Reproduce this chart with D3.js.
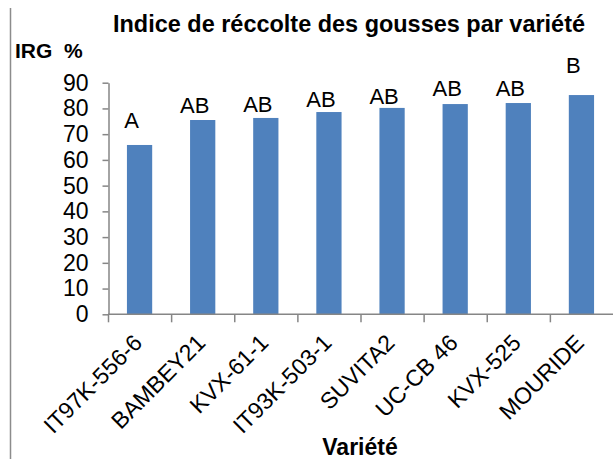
<!DOCTYPE html>
<html>
<head>
<meta charset="utf-8">
<script src="https://cdn.jsdelivr.net/npm/d3@7"></script>
<style>
  html, body { margin: 0; padding: 0; background: #fff; }
  svg { display: block; font-family: "Liberation Sans", Arial, sans-serif; }
</style>
</head>
<body>
<svg id="chart" width="613" height="459"></svg>
<script>
// ---- data ----
const categories = ["IT97K-556-6", "BAMBEY21", "KVX-61-1", "IT93K-503-1", "SUVITA2", "UC-CB 46", "KVX-525", "MOURIDE"];
const irgValues = [65.8, 75.5, 76.3, 78.6, 80.2, 81.7, 82.1, 85.2];
const groupLetters = ["A", "AB", "AB", "AB", "AB", "AB", "AB", "B"];
const letterLevel = [72.3, 78.1, 78.7, 80.6, 81.9, 84.8, 84.8, 93.8];
const yTicks = [0, 10, 20, 30, 40, 50, 60, 70, 80, 90];
const titleText = "Indice de réccolte des gousses par variété";
const yTitle = "IRG  %";
const xTitle = "Variété";

// ---- layout ----
const svg = d3.select("#chart");
const axisColor = "#868686";
const barColor = "#4F81BD";

const x = d3.scaleBand().domain(categories).range([108, 613]).padding(0);
const y = d3.scaleLinear().domain([0, 90]).range([314.3, 82.7]);

// left frame line
svg.append("line")
  .attr("x1", 10.5).attr("x2", 10.5).attr("y1", 8).attr("y2", 459)
  .attr("stroke", "#8c8c8c").attr("stroke-width", 1.5);

// title
svg.append("text")
  .attr("x", 113).attr("y", 32)
  .attr("font-size", 23).attr("font-weight", "bold")
  .attr("textLength", 472).attr("lengthAdjust", "spacingAndGlyphs")
  .attr("fill", "#000")
  .text(titleText);

// y title
svg.append("text")
  .attr("x", 15).attr("y", 58)
  .attr("font-size", 21).attr("font-weight", "bold")
  .style("white-space", "pre")
  .attr("fill", "#000")
  .text(yTitle);

// bars
const barW = x.bandwidth() * 0.4;
svg.append("g").selectAll("rect")
  .data(irgValues)
  .join("rect")
  .attr("x", (d, i) => x(categories[i]) + x.bandwidth() / 2 - barW / 2)
  .attr("y", d => y(d))
  .attr("width", barW)
  .attr("height", d => y(0) - y(d))
  .attr("fill", barColor);

// y axis
const yAxis = d3.axisLeft(y).tickValues(yTicks).tickSize(6).tickPadding(14).tickSizeOuter(0);
const gy = svg.append("g").attr("transform", "translate(108.5,0)").call(yAxis);
gy.select(".domain").attr("stroke", axisColor).attr("stroke-width", 1.5);
gy.selectAll(".tick line").attr("stroke", axisColor).attr("stroke-width", 1.5);
gy.selectAll(".tick text")
  .attr("font-size", 23).attr("font-family", "Liberation Sans, Arial, sans-serif")
  .attr("fill", "#000");

// x axis line + ticks at band boundaries
const gx = svg.append("g");
gx.append("line")
  .attr("x1", x.range()[0]).attr("x2", x.range()[1])
  .attr("y1", y(0)).attr("y2", y(0))
  .attr("stroke", axisColor).attr("stroke-width", 1.5);
gx.selectAll("line.tk")
  .data(categories)
  .join("line")
  .attr("class", "tk")
  .attr("x1", d => x(d) + 0.5).attr("x2", d => x(d) + 0.5)
  .attr("y1", y(0)).attr("y2", y(0) + 8)
  .attr("stroke", axisColor).attr("stroke-width", 1.5);

// category labels (rotated)
gx.selectAll("text.cat")
  .data(categories)
  .join("text")
  .attr("class", "cat")
  .attr("text-anchor", "end")
  .attr("font-size", 23)
  .attr("fill", "#000")
  .attr("transform", d => `translate(${x(d) + x.bandwidth() / 2 + 4},${y(0) + 30}) rotate(-45)`)
  .text(d => d);

// group letters
svg.append("g").selectAll("text")
  .data(groupLetters)
  .join("text")
  .attr("text-anchor", "middle")
  .attr("font-size", 22)
  .attr("fill", "#000")
  .attr("x", (d, i) => x(categories[i]) + x.bandwidth() / 2 - 8)
  .attr("y", (d, i) => y(letterLevel[i]))
  .text(d => d);

// x title
svg.append("text")
  .attr("x", 360).attr("y", 455)
  .attr("text-anchor", "middle")
  .attr("font-size", 23).attr("font-weight", "bold")
  .attr("fill", "#000")
  .text(xTitle);
</script>
</body>
</html>
